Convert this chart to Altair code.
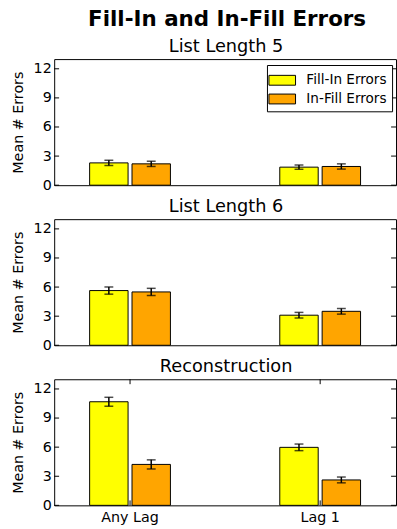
import altair as alt
import pandas as pd

panels = ["List Length 5", "List Length 6", "Reconstruction"]
lags = ["Any Lag", "Lag 1"]
types = ["Fill-In Errors", "In-Fill Errors"]
colors = ["#ffff00", "#ffa500"]

fill_in_mean = [[2.30, 1.86], [5.64, 3.10], [10.68, 5.98]]
fill_in_err = [[0.27, 0.22], [0.37, 0.29], [0.46, 0.34]]
in_fill_mean = [[2.20, 1.93], [5.50, 3.50], [4.22, 2.62]]
in_fill_err = [[0.27, 0.27], [0.37, 0.29], [0.47, 0.30]]
y_ticks = [0, 3, 6, 9, 12]

W, H = 347, 128
FONT = "DejaVu Sans"


def panel_df(i):
    rows = []
    for j, lag in enumerate(lags):
        for t, means, errs in ((types[0], fill_in_mean, fill_in_err), (types[1], in_fill_mean, in_fill_err)):
            m = means[i][j]
            e = errs[i][j]
            rows.append({"lag": lag, "type": t, "mean": m, "lo": m - e, "hi": m + e})
    return pd.DataFrame(rows)


def make_panel(i, show_legend, show_x):
    df = panel_df(i)
    if show_x:
        xaxis = alt.Axis(title=None, ticks=False, domain=False, labelAngle=0,
                         labelFontSize=14.5, labelPadding=5, labelColor="black", labelFont=FONT)
    else:
        xaxis = None
    x = alt.X("lag:N", sort=lags,
              scale=alt.Scale(domain=lags, paddingInner=0.5751, paddingOuter=0.1865),
              axis=xaxis)
    xo = alt.XOffset("type:N", sort=types,
                     scale=alt.Scale(domain=types, paddingInner=0.093, paddingOuter=0))
    yaxis = alt.Axis(values=y_ticks, title="Mean # Errors", ticks=False, grid=False, domain=False,
                     labelFontSize=14.5, labelPadding=3, labelColor="black", labelFont=FONT,
                     titleFontSize=14.5, titleFontWeight="normal", titleColor="black",
                     titleFont=FONT, titlePadding=8)
    yscale = alt.Scale(domain=[0, 13], nice=False, zero=True)

    def Y(field):
        return alt.Y(field, type="quantitative", scale=yscale, axis=yaxis)

    if show_legend:
        legend = alt.Legend(title=None, orient="none", legendX=216, legendY=6,
                            fillColor="white", strokeColor="black", padding=5,
                            labelFontSize=13.8, labelFont=FONT, labelColor="black",
                            symbolType="M-1.35,-0.5H1.35V0.5H-1.35Z", symbolSize=400,
                            symbolStrokeColor="black", symbolStrokeWidth=1,
                            labelOffset=14, rowPadding=1, cornerRadius=0)
    else:
        legend = None

    base = alt.Chart(df)
    bars = base.mark_bar(stroke="black", strokeWidth=1).encode(
        x=x, xOffset=xo, y=Y("mean"),
        color=alt.Color("type:N", sort=types, scale=alt.Scale(domain=types, range=colors), legend=legend),
    )
    err = base.mark_rule(color="black", strokeWidth=1.5).encode(x=x, xOffset=xo, y=Y("lo"), y2="hi")
    cap_lo = base.mark_tick(color="black", size=9, thickness=1.5).encode(x=x, xOffset=xo, y=Y("lo"))
    cap_hi = base.mark_tick(color="black", size=9, thickness=1.5).encode(x=x, xOffset=xo, y=Y("hi"))

    tick_df = pd.DataFrame({"v": y_ticks})
    ytl = alt.Chart(tick_df).mark_rule(color="black", strokeWidth=1).encode(
        y=Y("v"), x=alt.value(0), x2=alt.value(5))
    ytr = alt.Chart(tick_df).mark_rule(color="black", strokeWidth=1).encode(
        y=Y("v"), x=alt.value(W - 5), x2=alt.value(W))

    layers = [bars, err, cap_lo, cap_hi, ytl, ytr]
    if show_x:
        lag_df = pd.DataFrame({"lag": lags})
        xtt = alt.Chart(lag_df).mark_rule(color="black", strokeWidth=1).encode(
            x=x, y=alt.value(0), y2=alt.value(5))
        xtb = alt.Chart(lag_df).mark_rule(color="black", strokeWidth=1).encode(
            x=x, y=alt.value(H - 5), y2=alt.value(H))
        layers += [xtt, xtb]

    return alt.layer(*layers).properties(
        width=W, height=H,
        title=alt.TitleParams(panels[i], fontSize=18, fontWeight="normal", font=FONT,
                              color="black", offset=3, anchor="middle", dx=1),
    )


p1 = make_panel(0, True, False)
p2 = make_panel(1, False, False)
p3 = make_panel(2, False, True)

chart = alt.vconcat(p1, p2, p3, spacing=5.5).resolve_legend(color="independent").properties(
    title=alt.TitleParams("Fill-In and In-Fill Errors", fontSize=21.7, fontWeight="bold", font=FONT,
                          color="black", anchor="middle", offset=7, dx=24),
    padding={"left": 10, "top": 5, "right": 0, "bottom": 0},
).configure(font=FONT, background="white").configure_view(stroke="black", strokeWidth=1)

chart.save("out.html", embed_options={"renderer": "svg", "actions": False})
